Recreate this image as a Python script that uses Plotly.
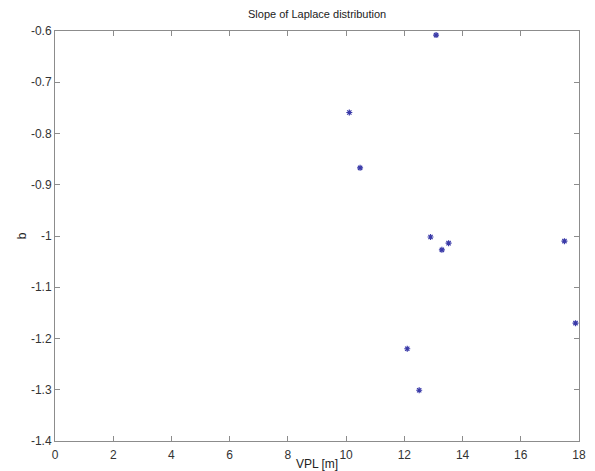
import plotly.graph_objects as go

vpl = [13.09, 10.11, 10.48, 12.90, 13.29, 13.52, 17.50, 17.88, 12.10, 12.51]
slope_b = [-0.608, -0.759, -0.867, -1.002, -1.027, -1.014, -1.010, -1.170, -1.220, -1.301]

x_ticks = [0, 2, 4, 6, 8, 10, 12, 14, 16, 18]
y_ticks = [-1.4, -1.3, -1.2, -1.1, -1.0, -0.9, -0.8, -0.7, -0.6]
y_labels = ["-1.4", "-1.3", "-1.2", "-1.1", "-1", "-0.9", "-0.8", "-0.7", "-0.6"]

FONT = "Liberation Sans, Arial"

fig = go.Figure()
fig.add_trace(go.Scatter(
    x=vpl, y=slope_b, mode="markers",
    marker=dict(symbol="asterisk-open", size=5, color="#3a3aa8",
                line=dict(color="#3a3aa8", width=1.2)),
    showlegend=False,
))

axis_common = dict(
    showline=True, linecolor="#8c8c8c", linewidth=1, mirror="ticks",
    ticks="inside", ticklen=5, tickcolor="#8c8c8c", tickwidth=1,
    showgrid=False, zeroline=False, automargin=False,
    tickfont=dict(family=FONT, size=12, color="#333333"),
)

fig.update_layout(
    width=595, height=471,
    margin=dict(l=55, r=16, t=31, b=30),
    paper_bgcolor="white", plot_bgcolor="white",
    title=dict(text="Slope of Laplace distribution", x=0.533, xanchor="center",
               y=0.97, yanchor="middle",
               font=dict(family=FONT, size=11, color="#222222")),
    xaxis=dict(range=[0, 18], tickvals=x_ticks, ticktext=[str(t) for t in x_ticks],
               ticklabelstandoff=3,
               title=dict(text="VPL [m]", standoff=6,
                          font=dict(family=FONT, size=12, color="#222222")),
               **axis_common),
    yaxis=dict(range=[-1.4, -0.6], tickvals=y_ticks, ticktext=y_labels,
               title=dict(text="b", standoff=1,
                          font=dict(family=FONT, size=12, color="#222222")),
               **axis_common),
)

fig.write_html("out.html")
